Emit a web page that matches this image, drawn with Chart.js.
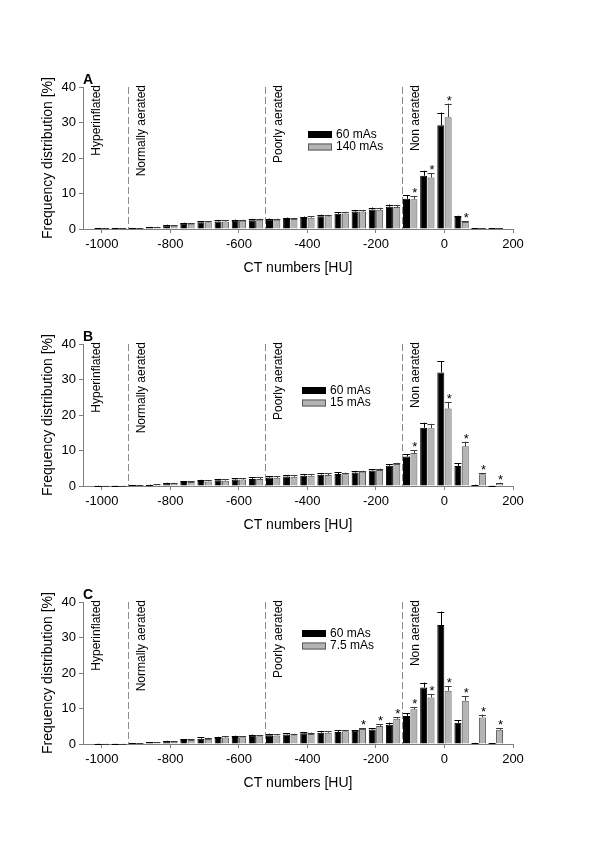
<!DOCTYPE html>
<html>
<head>
<meta charset="utf-8">
<script src="https://cdn.jsdelivr.net/npm/chart.js@4.4.0/dist/chart.umd.min.js"></script>
<style>
  body { margin: 0; background: #fff; width: 600px; height: 850px; position: relative; overflow: hidden; }
  canvas { position: absolute; left: 0; }
</style>
</head>
<body>
<canvas id="chartA" width="600" height="300" style="top:0px"></canvas>
<canvas id="chartB" width="600" height="300" style="top:257px"></canvas>
<canvas id="chartC" width="600" height="300" style="top:515px"></canvas>
<script>
// CT number bins [HU]
const bins = [-1000, -950, -900, -850, -800, -750, -700, -650, -600, -550, -500, -450,
              -400, -350, -300, -250, -200, -150, -100, -50, 0, 50, 100, 150];
const xTicks = [-1000, -800, -600, -400, -200, 0, 200];
const yTicks = [0, 10, 20, 30, 40];
const zoneStarts = [-1055, -925, -525, -125];
const zoneLabels = ["Hyperinflated", "Normally aerated", "Poorly aerated", "Non aerated"];

// panel A: 60 mAs vs 140 mAs
const a60 =     [0.1, 0.1, 0.2, 0.5, 1.0, 1.5, 1.9, 2.1, 2.3, 2.5, 2.6, 2.8, 3.1, 3.6, 4.3, 4.9, 5.5, 6.3, 8.5, 15.0, 29.2, 3.4, 0.1, 0.1];
const a60Err =  [0.05, 0.05, 0.05, 0.1, 0.2, 0.25, 0.3, 0.35, 0.35, 0.35, 0.35, 0.4, 0.4, 0.45, 0.45, 0.5, 0.55, 0.6, 1.0, 1.4, 3.6, 0.35, 0.05, 0.05];
const a140 =    [0.1, 0.1, 0.2, 0.5, 0.9, 1.5, 1.9, 2.1, 2.3, 2.6, 2.6, 2.8, 3.2, 3.6, 4.4, 4.9, 5.4, 6.2, 8.4, 14.5, 31.5, 2.0, 0.1, 0.1];
const a140Err = [0.05, 0.05, 0.05, 0.1, 0.2, 0.2, 0.3, 0.3, 0.3, 0.3, 0.3, 0.35, 0.35, 0.4, 0.4, 0.5, 0.6, 0.6, 0.8, 1.2, 3.8, 0.25, 0.05, 0.05];
const aSig = [-100, -50, 0, 50];

// panel B: 60 mAs vs 15 mAs
const b60 =     [0.05, 0.05, 0.2, 0.3, 0.7, 1.1, 1.4, 1.6, 1.8, 2.0, 2.4, 2.7, 2.9, 3.2, 3.4, 3.8, 4.4, 5.7, 8.3, 16.4, 32.0, 5.6, 0.3, 0.05];
const b60Err =  [0.05, 0.05, 0.05, 0.1, 0.2, 0.3, 0.35, 0.4, 0.4, 0.4, 0.4, 0.4, 0.45, 0.45, 0.45, 0.45, 0.4, 0.4, 0.6, 1.4, 3.2, 0.8, 0.1, 0.05];
const b15 =     [0.05, 0.05, 0.2, 0.35, 0.7, 1.1, 1.3, 1.5, 1.8, 2.0, 2.3, 2.6, 2.9, 3.1, 3.3, 4.0, 4.5, 6.2, 9.3, 16.3, 21.8, 11.2, 3.3, 0.8];
const b15Err =  [0.05, 0.05, 0.05, 0.1, 0.2, 0.3, 0.35, 0.4, 0.4, 0.4, 0.4, 0.4, 0.45, 0.45, 0.45, 0.3, 0.4, 0.3, 0.8, 1.2, 1.9, 1.3, 0.4, 0.15];
const bSig = [-100, 0, 50, 100, 150];

// panel C: 60 mAs vs 7.5 mAs
const c60 =     [0.05, 0.05, 0.2, 0.4, 0.7, 1.1, 1.5, 1.7, 2.0, 2.3, 2.5, 2.7, 3.0, 3.2, 3.4, 3.7, 4.1, 5.4, 7.9, 15.9, 33.5, 6.0, 0.3, 0.1];
const c60Err =  [0.05, 0.05, 0.05, 0.1, 0.2, 0.3, 0.35, 0.35, 0.35, 0.35, 0.4, 0.4, 0.4, 0.45, 0.45, 0.3, 0.4, 0.6, 0.7, 1.4, 3.8, 0.7, 0.05, 0.05];
const c75 =     [0.05, 0.05, 0.2, 0.4, 0.6, 1.1, 1.4, 1.8, 1.9, 2.2, 2.4, 2.5, 2.8, 3.2, 3.6, 4.2, 5.1, 7.1, 9.8, 13.1, 15.0, 12.2, 7.5, 4.0];
const c75Err =  [0.05, 0.05, 0.05, 0.1, 0.2, 0.3, 0.35, 0.35, 0.35, 0.35, 0.4, 0.4, 0.4, 0.4, 0.3, 0.3, 0.4, 0.4, 0.6, 1.0, 1.2, 1.2, 0.8, 0.5];
const cSig = [-250, -200, -150, -100, -50, 0, 50, 100, 150];

const FONT = "'Liberation Sans', Arial, sans-serif";
const AXIS = "#7f7f7f";

// error bars, stars, zone lines, zone labels, legend, panel letter
const decorations = {
  id: "decorations",
  beforeDatasetsDraw(chart) {
    const { ctx, chartArea: area, scales: { x } } = chart;
    ctx.save();
    ctx.strokeStyle = "#8c8c8c";
    ctx.lineWidth = 1;
    ctx.setLineDash([7, 3]);
    zoneStarts.slice(1).forEach((v) => {
      const px = Math.round(x.getPixelForValue(v)) + 0.5;
      ctx.beginPath();
      ctx.moveTo(px, area.top);
      ctx.lineTo(px, area.bottom);
      ctx.stroke();
    });
    ctx.setLineDash([]);
    ctx.fillStyle = "#000";
    ctx.font = "12px " + FONT;
    ctx.textAlign = "right";
    ctx.textBaseline = "middle";
    zoneStarts.forEach((v, i) => {
      ctx.save();
      ctx.translate(x.getPixelForValue(v) + 14, area.top - 2);
      ctx.rotate(-Math.PI / 2);
      ctx.fillText(zoneLabels[i], 0, 0);
      ctx.restore();
    });
    ctx.restore();
  },
  afterDatasetsDraw(chart, args, opts) {
    const { ctx, chartArea: area, scales: { y } } = chart;
    ctx.save();
    chart.data.datasets.forEach((ds, di) => {
      const meta = chart.getDatasetMeta(di);
      meta.data.forEach((bar, i) => {
        const top = y.getPixelForValue(ds.data[i].y + ds.errors[i]);
        const half = bar.width / 2;
        ctx.strokeStyle = di === 0 ? "#000" : "#3c3c3c";
        ctx.lineWidth = 1;
        ctx.beginPath();
        ctx.moveTo(Math.round(bar.x) + 0.5, bar.y);
        ctx.lineTo(Math.round(bar.x) + 0.5, top);
        ctx.moveTo(bar.x - half, Math.round(top) + 0.5);
        ctx.lineTo(bar.x + half, Math.round(top) + 0.5);
        ctx.stroke();
        if (di === 1 && opts.sig.includes(ds.data[i].x)) {
          ctx.fillStyle = "#000";
          ctx.font = "13px " + FONT;
          ctx.textAlign = "center";
          ctx.textBaseline = "alphabetic";
          ctx.fillText("*", bar.x + 1, top + 1);
        }
      });
    });
    // legend
    ctx.font = "12px " + FONT;
    ctx.textAlign = "left";
    ctx.textBaseline = "middle";
    chart.data.datasets.forEach((ds, di) => {
      const cy = opts.legendY + di * 12.5;
      ctx.fillStyle = ds.backgroundColor;
      ctx.fillRect(opts.legendX, cy - 3.5, 24, 7);
      ctx.strokeStyle = ds.borderColor;
      ctx.strokeRect(opts.legendX + 0.5, cy - 3, 23, 6);
      ctx.fillStyle = "#000";
      ctx.fillText(ds.label, opts.legendX + 28, cy);
    });
    // panel letter
    ctx.font = "bold 14px " + FONT;
    ctx.textBaseline = "alphabetic";
    ctx.fillText(opts.letter, area.left, area.top - 3);
    ctx.restore();
  },
};

function makePanel(id, letter, label2, v60, e60, v2, e2, sig, legendX, legendY) {
  new Chart(document.getElementById(id).getContext("2d"), {
    type: "bar",
    data: {
      datasets: [
        {
          label: "60 mAs",
          data: bins.map((b, i) => ({ x: b, y: v60[i] })),
          errors: e60,
          backgroundColor: "#000000",
          borderColor: "#000000",
          borderWidth: 1,
          categoryPercentage: 0.86,
          barPercentage: 0.95,
        },
        {
          label: label2,
          data: bins.map((b, i) => ({ x: b, y: v2[i] })),
          errors: e2,
          backgroundColor: "#b4b4b4",
          borderColor: "#5a5a5a",
          borderWidth: 1,
          categoryPercentage: 0.86,
          barPercentage: 0.95,
        },
      ],
    },
    options: {
      responsive: false,
      animation: false,
      layout: { padding: { top: 87, right: 87, bottom: 0, left: 0 } },
      plugins: {
        legend: { display: false },
        tooltip: { enabled: false },
        decorations: { letter, sig, legendX, legendY },
      },
      scales: {
        x: {
          type: "linear",
          offset: false,
          min: -1055,
          max: 200,
          afterFit: (s) => { s.height = 71; },
          afterBuildTicks: (s) => { s.ticks = xTicks.map((v) => ({ value: v })); },
          grid: { offset: false, drawOnChartArea: false, drawTicks: true, tickLength: 4, color: AXIS },
          border: { color: AXIS },
          ticks: {
            color: "#000",
            padding: 4,
            maxRotation: 0,
            font: { family: FONT, size: 13 },
            callback: (v) => String(v),
          },
          title: {
            display: true,
            text: "CT numbers [HU]",
            color: "#000",
            font: { family: FONT, size: 14 },
            padding: { top: 0, bottom: 23 },
          },
        },
        y: {
          min: 0,
          max: 40,
          afterFit: (s) => { s.width = 83; },
          afterBuildTicks: (s) => { s.ticks = yTicks.map((v) => ({ value: v })); },
          grid: { drawOnChartArea: false, drawTicks: true, tickLength: 4, color: AXIS },
          border: { color: AXIS },
          ticks: { color: "#000", padding: 3, font: { family: FONT, size: 13 } },
          title: {
            display: true,
            text: "Frequency distribution [%]",
            color: "#000",
            font: { family: FONT, size: 14 },
            padding: { top: 40, bottom: 0 },
          },
        },
      },
    },
    plugins: [decorations],
  });
}

makePanel("chartA", "A", "140 mAs", a60, a60Err, a140, a140Err, aSig, 308, 134.5);
makePanel("chartB", "B", "15 mAs", b60, b60Err, b15, b15Err, bSig, 302, 133.5);
makePanel("chartC", "C", "7.5 mAs", c60, c60Err, c75, c75Err, cSig, 302, 118.5);
</script>
</body>
</html>
